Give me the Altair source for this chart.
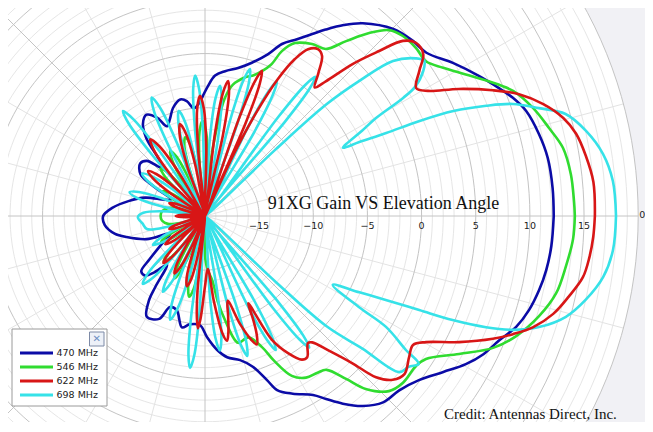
import altair as alt
import pandas as pd

# ---------------- data (angle in degrees, gain in dB) ----------------
SERIES = ["470 MHz", "546 MHz", "622 MHz", "698 MHz"]
COLORS = ["#0b0ba6", "#30dc30", "#d81616", "#36e2e8"]

blue_pts = [
    (0, 12.2), (4.6, 12.2), (9.6, 12.1), (13.8, 11.75), (18.1, 11.2), (21, 10.45), (23.5, 9.6),
    (27.1, 8.4), (31.7, 6.9), (36.4, 5.4), (40.1, 5.1), (44.8, 4.5), (50.7, 3.0), (54, 1.8),
    (57.1, 0.5), (59.5, -0.5), (62.5, -1.6), (65.9, -2.6), (68.7, -3.95), (73, -5.2), (77.4, -6.0),
    (82.1, -6.5), (85.9, -7.0), (88.7, -8.0), (91, -8.9), (93.1, -9.6), (96, -10.0), (99, -9.25),
    (102, -9.0), (106.5, -9.6), (110, -10.5), (113, -11.0), (116, -9.9), (120, -9.2), (124, -9.75),
    (127, -11.0), (129.5, -13.5), (132, -14.0), (136.5, -12.6), (141, -12.3), (147, -12.9),
    (150, -14.5), (154, -16.5), (158, -16.0), (163, -14.2), (169, -12.8), (175, -11.4), (180, -10.6),
    (185, -10.7), (191, -11.5), (195, -12.5), (201.6, -14.2), (207, -16.4), (213, -15.2),
    (218, -13.5), (221, -12.2), (225, -12.2), (228, -13.0), (232, -14.3), (235, -12.0),
    (236.5, -10.6), (240, -9.25), (246, -9.6), (249, -11.0), (253.4, -10.9), (258.3, -9.5),
    (262, -9.9), (267.4, -9.9), (271, -8.8), (275.1, -7.6), (278.9, -6.8), (283.7, -6.3),
    (287.6, -5.4), (290.7, -3.8), (292.5, -2.6), (296.3, -1.7), (301.1, -0.7), (303.5, 0.26),
    (306.3, 1.5), (309.7, 2.8), (313.7, 3.8), (318.1, 4.1), (322.5, 4.9), (326.8, 6.3),
    (330.4, 7.7), (333.6, 8.7), (337.1, 9.5), (340.4, 10.5), (343.8, 11.15), (347.5, 11.6),
    (351, 11.9), (355, 12.1), (360, 12.2),
]

green_pts = [
    (0, 14.15), (2.3, 14.1), (6.5, 14.0), (10.75, 13.65), (14.3, 12.8), (18.2, 11.9), (22.1, 10.7),
    (25.4, 9.0), (28.5, 7.4), (31.9, 5.9), (35, 4.9), (38.5, 4.9), (42.3, 4.7), (45.3, 4.15),
    (48.1, 2.7), (51.1, 0.75), (54.1, -0.96), (58.1, -1.3), (62.5, -2.0), (65, -3.2), (66.5, -4.8),
    (70.7, -6.2), (74, -6.7), (78, -7.6), (80.5, -9), (82.5, -12), (84.5, -15.5), (86.5, -20),
    (87.1, -15.2), (89.3, -12.2), (91.5, -11.2), (93.7, -12.2), (95.9, -15.2), (97.5, -20),
    (99, -16.5), (101.5, -13.3), (104, -12.5), (106.5, -13.3), (109, -16.5), (110.5, -20),
    (113, -16.7), (115.5, -14), (118, -13.2), (120.5, -14), (123, -16.7), (124.5, -20),
    (128, -17), (130.5, -14.8), (133, -14), (135.5, -14.8), (138, -17), (140, -20),
    (144, -18), (146.5, -16.2), (149, -15.5), (151.5, -16.2), (154, -18), (156, -20),
    (163, -18), (168, -16.5), (174, -16), (180, -15.9), (186, -16), (192, -16.5), (197, -18), (200, -20),
    (205.5, -18), (208, -16), (210.5, -15.3), (213, -16), (215.5, -18), (217.5, -20),
    (223, -17.3), (225.5, -15), (228, -14.3), (230.5, -15), (233, -17.3), (235, -20),
    (239.5, -16.8), (241.8, -14.4), (244, -13.6), (246.2, -14.4), (248.5, -16.8), (250.5, -20),
    (254.5, -16), (256.8, -13.2), (259, -12.4), (261.2, -13.2), (263.5, -16), (265.5, -20),
    (270.5, -16), (273, -15), (276.5, -14), (278.5, -12), (280.9, -10.2), (284.6, -7.9),
    (289.6, -8.1), (293.5, -6.8), (295.5, -5.2), (298.5, -3.2), (302, -2.4), (305.5, -2.2),
    (308.3, -1.9), (310.9, -0.1), (312.9, 1.8), (316.4, 3.45), (319.9, 3.9), (324.6, 3.9),
    (327.1, 4.3), (331.5, 6.7), (335.4, 9.25), (338.9, 10.8), (343.3, 12.2), (347.6, 13.2),
    (352.1, 13.65), (356.4, 14.05), (360, 14.15),
]

red_pts = [
    (0, 16.0), (5, 16.0), (9, 15.6), (12.5, 15.1), (15.3, 14.3), (18.3, 12.9), (21.2, 11.1),
    (23.6, 9.0), (26.6, 6.2), (29.3, 3.6), (31.2, 2.8), (34.1, 3.9), (36.6, 5.1), (39.4, 5.2),
    (41.5, 4.4), (43.5, 2.1), (45.8, -0.4), (48.1, -3.3), (49.5, -4.4), (51.5, -3.2), (53.8, -1.7),
    (55.9, -1.4), (58.3, -1.9), (60.2, -3.3), (62, -5.7), (63.5, -9), (65, -13.5), (66.2, -20),
    (66.4, -10.6), (67.5, -6.8), (68.6, -5.6), (69.7, -6.8), (70.8, -10.6), (72.5, -20),
    (77.5, -12.3), (78.9, -8.5), (80.3, -7.35), (81.7, -8.5), (83.1, -12.3), (85, -20),
    (88.9, -13.9), (90.6, -10.1), (92.4, -8.9), (94.2, -10.1), (95.9, -13.9), (97.5, -20),
    (100.8, -15.2), (103, -12.2), (105.2, -11.2), (107.4, -12.2), (109.6, -15.2), (111, -20),
    (121, -15.3), (123.2, -12.3), (125.5, -11.3), (127.8, -12.3), (130, -15.3), (132, -20),
    (136.7, -16.3), (139.2, -14.1), (141.7, -13.3), (144.2, -14.1), (146.7, -16.3), (149, -20),
    (155, -18.5), (157.5, -17), (160, -16.5), (162.5, -17), (165, -18.5), (168, -20),
    (175, -19), (177.5, -17.8), (180, -17.3), (182.5, -17.8), (185, -19), (188, -20),
    (195, -18.5), (197.5, -17), (200, -16.5), (202.5, -17), (205, -18.5), (207, -20),
    (211, -18), (213, -16.2), (215.5, -15.5), (218, -16.2), (220, -18), (222, -20),
    (224, -17.2), (226.2, -15), (228.5, -14.2), (230.8, -15), (233, -17.2), (235, -20),
    (237.5, -17), (239.7, -14.8), (242, -14), (244.3, -14.8), (246.5, -17), (248.5, -20),
    (251.3, -16.8), (253.4, -14.1), (255.6, -13.3), (257.8, -14.1), (260, -16.8), (262.5, -20),
    (264.3, -13), (265.5, -10.5), (266.4, -9.6), (267.5, -10.5), (270, -13.5), (273, -15.1),
    (276, -12), (278.5, -9), (280, -8.3), (281.3, -9), (283, -10.5), (285, -11.9),
    (288, -9.5), (290.5, -7.8), (292, -7.2), (293.5, -8), (295, -9.5), (296.3, -11),
    (298.4, -7), (301.2, -5.2), (304, -4.0), (305.9, -3.9), (309, -4.9), (310.3, -4.7),
    (312.5, -3.2), (315, -0.8), (316.7, 1.7), (318.9, 3.0), (321.6, 3.5), (325.4, 2.9),
    (328.2, 2.6), (330.3, 3.5), (333.6, 6.2), (336.9, 8.9), (339, 10.45), (341.3, 12.0),
    (344.3, 13.4), (347.5, 14.4), (350.8, 15.35), (353.9, 15.7), (356.9, 15.9), (360, 16.0),
]

cyan_pts = [
    (0, 17.95), (4.9, 17.8), (8.85, 17.2), (12.6, 16.05), (15.8, 14.6), (17.9, 12.4), (20, 10.25),
    (21.4, 7.9), (22.9, 4.9), (23.9, 1.6), (24.6, -1.6), (25.6, -4.2), (26.3, -5.8), (28.5, -3.5),
    (29.8, -1.8), (30.8, 1.3), (31.6, 2.8), (33.6, 4.2), (35.3, 4.8), (36.8, 4.3), (39.5, 2.5),
    (41.2, -1.1), (42.6, -4.8), (43.3, -11), (44, -20),
    (49.7, -8.6), (50.6, -4.8), (51.6, -3.6), (52.6, -4.8), (53.5, -8.6), (55, -20),
    (59.6, -10.9), (60.8, -7.1), (61.9, -5.9), (63, -7.1), (64.2, -10.9), (66, -20),
    (70.7, -10.8), (71.8, -7), (73, -5.8), (74.2, -7), (75.3, -10.8), (77, -20),
    (80.4, -12.9), (81.9, -9.1), (83.4, -7.9), (84.9, -9.1), (86.4, -12.9), (88, -20),
    (91.4, -12), (92.7, -8.2), (94, -7.0), (95.3, -8.2), (96.6, -12), (98, -20),
    (99.8, -15), (101.9, -11.2), (104, -10), (106.1, -11.2), (108.2, -15), (109.5, -20),
    (110.9, -13), (112.5, -9.2), (114.2, -8), (115.9, -9.2), (117.5, -13), (119, -20),
    (125.1, -12.7), (126.5, -8.9), (128, -7.7), (129.5, -8.9), (130.9, -12.7), (133, -20),
    (140.7, -16), (143.4, -13.8), (146, -13), (148.6, -13.8), (151.3, -16), (153, -20),
    (157.6, -15.7), (160, -13.5), (162.5, -12.7), (165, -13.5), (167.4, -15.7), (170, -20),
    (173, -16.5), (177, -14.3), (181, -13.8), (187, -14.2), (192.6, -14.5), (196, -16.5), (198, -20),
    (204, -17.5), (206.5, -15.3), (209, -14.5), (211.5, -15.3), (214, -17.5), (216, -20),
    (222.8, -15.5), (225.2, -12.5), (227.5, -11.5), (229.8, -12.5), (232.2, -15.5), (234, -20),
    (237, -16), (239, -13), (241, -12), (243, -13), (245, -16), (246.5, -20),
    (247.4, -14.9), (249.5, -11.1), (251.5, -9.9), (253.5, -11.1), (255.6, -14.9), (257.5, -20),
    (262.1, -10.9), (263.2, -7.1), (264.4, -5.9), (265.6, -7.1), (266.7, -10.9), (268.5, -20),
    (273.5, -12.5), (274.9, -8.7), (276.3, -7.5), (277.7, -8.7), (279.1, -12.5), (281, -20),
    (284.3, -11.5), (285.5, -7.7), (286.8, -6.5), (288.1, -7.7), (289.3, -11.5), (291, -20),
    (295.4, -11), (296.6, -7.2), (297.8, -6), (299, -7.2), (300.2, -11), (302, -20),
    (306.4, -9.5), (307.4, -5.7), (308.4, -4.5), (309.4, -5.7), (310.4, -9.5), (312.5, -20),
    (317, -11), (317.8, -4.8), (319.9, -1.0), (321.2, 3.0), (323.5, 3.4), (325.3, 4.0),
    (326.3, 2.3), (328.5, -0.4), (329.4, -3.5), (331.7, -6.6), (333.7, -4.1), (335.1, -1.6),
    (336.3, 1.6), (337.2, 4.8), (338.4, 7.9), (339.7, 10.3), (341.6, 12.5), (344.4, 14.6),
    (347.6, 16.0), (351.3, 17.2), (355.2, 17.8), (360, 17.95),
]

RADIAL_TICKS = [-20, -15, -10, -5, 0, 5, 10, 15]
ANGLE_TICKS = [0]          # the only angle label inside the picture
RMIN, RMAX = -20, 20
TITLE = "91XG Gain VS Elevation Angle"
CREDIT = "Credit: Antennas Direct, Inc."

# ---------------- geometry ----------------
W, H = 637, 414
CX, CY = 197.0, 208.0      # pole position inside the plot (pixels)
PX = 10.83                 # pixels per dB
xs = alt.Scale(domain=[-CX / PX, (W - CX) / PX], nice=False, zero=False)
ys = alt.Scale(domain=[-(H - CY) / PX, CY / PX], nice=False, zero=False)
SPAN = RMAX - RMIN

rows = []
for name, pts in zip(SERIES, [blue_pts, green_pts, red_pts, cyan_pts]):
    for i, (a, g) in enumerate(pts):
        rows.append({"series": name, "angle": a, "gain": g, "idx": i})
curves = pd.DataFrame(rows)

rings = pd.DataFrame(
    [{"ring": r, "angle": a, "major": r % 5 == 0} for r in range(1, SPAN + 1) for a in range(0, 361, 2)]
)
spokes = pd.DataFrame([{"angle": a, "major": a % 45 == 0} for a in range(0, 360, 15)])
ticks = pd.DataFrame({"v": RADIAL_TICKS})
aticks = pd.DataFrame({"a": ANGLE_TICKS})

XY = dict(
    x=alt.X("x:Q", scale=xs, axis=None),
    y=alt.Y("y:Q", scale=ys, axis=None),
)

disc = alt.Chart(pd.DataFrame({"x": [0.0], "y": [0.0]})).mark_point(
    shape="circle", filled=True, color="white", opacity=1, size=(2 * SPAN * PX) ** 2, clip=True
).encode(**XY)


def ring_layer(major, color, width):
    return alt.Chart(rings).transform_filter(
        alt.datum.major if major else ~alt.datum.major
    ).transform_calculate(
        x="datum.ring*cos(datum.angle*PI/180)", y="datum.ring*sin(datum.angle*PI/180)"
    ).mark_line(color=color, strokeWidth=width, clip=True).encode(
        detail="ring:N", order="angle:Q", **XY
    )


def spoke_layer(major, color, width):
    return alt.Chart(spokes).transform_filter(
        alt.datum.major if major else ~alt.datum.major
    ).transform_calculate(
        x="0", y="0",
        x2=f"{SPAN}*cos(datum.angle*PI/180)", y2=f"{SPAN}*sin(datum.angle*PI/180)",
    ).mark_rule(color=color, strokeWidth=width, clip=True).encode(
        x=alt.X("x:Q", scale=xs, axis=None), y=alt.Y("y:Q", scale=ys, axis=None),
        x2="x2:Q", y2="y2:Q",
    )


tick_text = alt.Chart(ticks).transform_calculate(
    x=f"datum.v - ({RMIN})", y="0", label="format(datum.v, 'd')"
).mark_text(font="DejaVu Sans", fontSize=9.5, color="#222", dy=9.5, baseline="middle").encode(
    text="label:N", **XY
)

angle_text = alt.Chart(aticks).transform_calculate(
    x=f"{SPAN}*cos(datum.a*PI/180)", y=f"{SPAN}*sin(datum.a*PI/180)",
    label="format(datum.a, 'd')",
).mark_text(font="DejaVu Sans", fontSize=9.5, color="#222", align="left", baseline="middle",
            dx=1, dy=-1).encode(text="label:N", **XY)

cscale = alt.Scale(domain=SERIES, range=COLORS)


def curve(name):
    return alt.Chart(curves).transform_filter(alt.datum.series == name).transform_calculate(
        r=f"max(datum.gain - ({RMIN}), 0)"
    ).transform_calculate(
        x="datum.r*cos(datum.angle*PI/180)", y="datum.r*sin(datum.angle*PI/180)"
    ).mark_line(strokeWidth=2.6, interpolate="catmull-rom", clip=True, strokeJoin="round").encode(
        order="idx:Q", color=alt.Color("series:N", scale=cscale, legend=None), **XY
    )


title = alt.Chart(pd.DataFrame({"t": [TITLE]})).mark_text(
    font="Liberation Serif", fontSize=18, color="#111", align="center", baseline="alphabetic"
).encode(text="t:N", x=alt.value(375.5), y=alt.value(201))

credit = alt.Chart(pd.DataFrame({"t": [CREDIT]})).mark_text(
    font="Liberation Serif", fontSize=15, color="#111", align="left", baseline="alphabetic"
).encode(text="t:N", x=alt.value(436), y=alt.value(411))

# legend panel
leg_box = alt.Chart(pd.DataFrame({"a": [0]})).mark_rect(
    fill="white", stroke="#9a9a9a", strokeWidth=1
).encode(x=alt.value(4), x2=alt.value(99), y=alt.value(321), y2=alt.value(398))
close_box = alt.Chart(pd.DataFrame({"a": [0]})).mark_rect(
    fill="#edf1f8", stroke="#7d8aa6", strokeWidth=1
).encode(x=alt.value(81.5), x2=alt.value(96), y=alt.value(324), y2=alt.value(338))
close_x = alt.Chart(pd.DataFrame({"t": ["\u2715"]})).mark_text(
    font="DejaVu Sans", fontSize=10, color="#6f8fc4", align="center", baseline="middle"
).encode(text="t:N", x=alt.value(88.8), y=alt.value(331))

leg_layers = []
for i, (name, col) in enumerate(zip(SERIES, COLORS)):
    yy = 345 + 14 * i
    leg_layers.append(
        alt.Chart(pd.DataFrame({"a": [0]})).mark_rule(color=col, strokeWidth=3).encode(
            x=alt.value(12), x2=alt.value(45), y=alt.value(yy)
        )
    )
    leg_layers.append(
        alt.Chart(pd.DataFrame({"t": [name]})).mark_text(
            font="DejaVu Sans", fontSize=9.5, color="#222", align="left", baseline="middle"
        ).encode(text="t:N", x=alt.value(48.5), y=alt.value(yy))
    )

chart = alt.layer(
    disc,
    ring_layer(False, "#e6e6e6", 1),
    spoke_layer(False, "#e3e3e3", 1),
    ring_layer(True, "#c4c4c4", 1),
    spoke_layer(True, "#c4c4c4", 1),
    tick_text, angle_text,
    curve(SERIES[0]), curve(SERIES[1]), curve(SERIES[3]), curve(SERIES[2]),
    title, credit, leg_box, close_box, close_x, *leg_layers,
).properties(
    width=W, height=H, padding=0, autosize=alt.AutoSizeParams(type="none"), background="#f1f1f5"
).configure_view(stroke=None)

chart.save("out.html", embed_options={"renderer": "svg", "actions": False})
